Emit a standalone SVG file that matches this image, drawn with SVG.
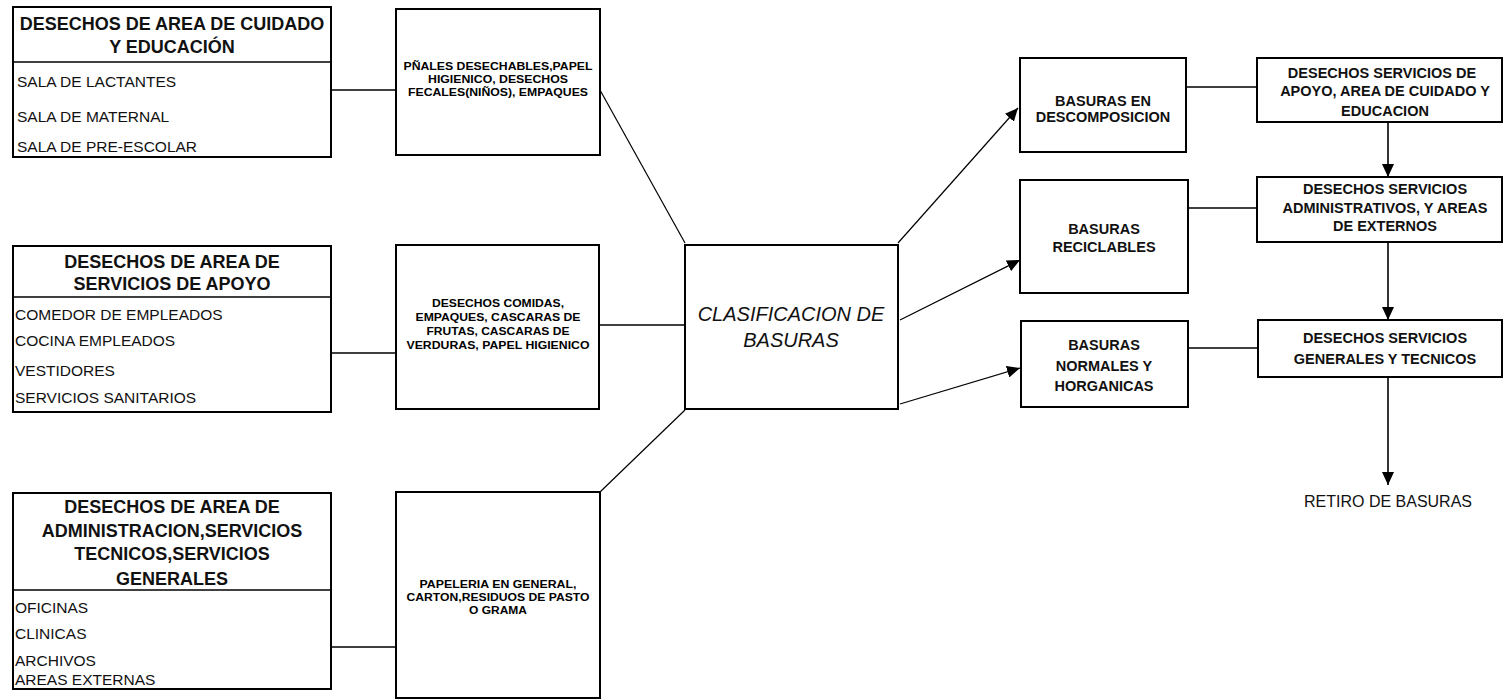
<svg xmlns="http://www.w3.org/2000/svg" width="1505" height="700" viewBox="0 0 1505 700">
<defs>
<marker id="ah" markerUnits="userSpaceOnUse" markerWidth="14" markerHeight="12" refX="13" refY="6" orient="auto">
<path d="M0,0 L13,6 L0,12 Z" fill="#000"/>
</marker>
<style>
.box{fill:#fff;stroke:#000;stroke-width:2}
.div{stroke:#000;stroke-width:1.5}
.hd{font-family:"Liberation Sans",Arial,sans-serif;font-weight:bold;font-size:18px;text-anchor:middle;fill:#111}
.it{font-family:"Liberation Sans",Arial,sans-serif;font-size:15.5px;fill:#111}
.sm{font-family:"Liberation Sans",Arial,sans-serif;font-weight:bold;font-size:10px;text-anchor:middle;fill:#000}
.ctr{font-family:"Liberation Sans",Arial,sans-serif;font-style:italic;font-size:20px;text-anchor:middle;fill:#111}
.rt{font-family:"Liberation Sans",Arial,sans-serif;font-weight:bold;font-size:14.5px;text-anchor:middle;fill:#111}
.rr{font-family:"Liberation Sans",Arial,sans-serif;font-size:16px;text-anchor:middle;fill:#111}
.c{fill:none;stroke:#000;stroke-width:1.6}
.d{fill:none;stroke:#000;stroke-width:1.2}
</style>
</defs>

<g id="connectors">
<line class="c" x1="331" y1="90" x2="396" y2="90"/>
<line class="c" x1="331" y1="353" x2="396" y2="353"/>
<line class="c" x1="331" y1="647" x2="396" y2="647"/>
<line class="d" x1="600" y1="90" x2="685" y2="243"/>
<line class="c" x1="599" y1="325" x2="685" y2="325"/>
<line class="d" x1="600" y1="492" x2="685" y2="410"/>
<line class="d" x1="898" y1="243" x2="1018" y2="108" marker-end="url(#ah)"/>
<line class="d" x1="900" y1="320" x2="1020" y2="260" marker-end="url(#ah)"/>
<line class="d" x1="900" y1="404" x2="1020" y2="368" marker-end="url(#ah)"/>
<line class="c" x1="1186" y1="87" x2="1257" y2="87"/>
<line class="c" x1="1188" y1="208" x2="1257" y2="208"/>
<line class="c" x1="1188" y1="348" x2="1258" y2="348"/>
<line class="c" x1="1388" y1="122" x2="1388" y2="177" marker-end="url(#ah)"/>
<line class="c" x1="1388" y1="242" x2="1388" y2="320" marker-end="url(#ah)"/>
<line class="c" x1="1388" y1="377" x2="1388" y2="485" marker-end="url(#ah)"/>
</g>

<g id="area-cuidado">
<rect class="box" x="13" y="7" width="318" height="150"/>
<line class="div" x1="13" y1="62" x2="331" y2="62"/>
<text class="hd" x="172" y="30">DESECHOS DE AREA DE CUIDADO</text>
<text class="hd" x="172" y="53">Y EDUCACIÓN</text>
<text class="it" x="17" y="87">SALA DE LACTANTES</text>
<text class="it" x="17" y="122">SALA DE MATERNAL</text>
<text class="it" x="17" y="152">SALA DE PRE-ESCOLAR</text>
</g>

<g id="residuos-cuidado">
<rect class="box" x="396" y="9" width="204" height="146"/>
<text class="sm" x="498" y="70" textLength="189" lengthAdjust="spacingAndGlyphs">PÑALES DESECHABLES,PAPEL</text>
<text class="sm" x="498" y="83" textLength="140" lengthAdjust="spacingAndGlyphs">HIGIENICO, DESECHOS</text>
<text class="sm" x="498" y="96" textLength="180" lengthAdjust="spacingAndGlyphs">FECALES(NIÑOS), EMPAQUES</text>
</g>

<g id="area-apoyo">
<rect class="box" x="13" y="246" width="318" height="166"/>
<line class="div" x1="13" y1="297" x2="331" y2="297"/>
<text class="hd" x="172" y="268">DESECHOS DE AREA DE</text>
<text class="hd" x="172" y="290">SERVICIOS DE APOYO</text>
<text class="it" x="15" y="320">COMEDOR DE EMPLEADOS</text>
<text class="it" x="15" y="346">COCINA EMPLEADOS</text>
<text class="it" x="15" y="376">VESTIDORES</text>
<text class="it" x="15" y="403">SERVICIOS SANITARIOS</text>
</g>

<g id="residuos-apoyo">
<rect class="box" x="396" y="245" width="203" height="164"/>
<text class="sm" x="498" y="307" textLength="132" lengthAdjust="spacingAndGlyphs">DESECHOS COMIDAS,</text>
<text class="sm" x="498" y="321" textLength="165" lengthAdjust="spacingAndGlyphs">EMPAQUES, CASCARAS DE</text>
<text class="sm" x="498" y="335" textLength="143" lengthAdjust="spacingAndGlyphs">FRUTAS, CASCARAS DE</text>
<text class="sm" x="498" y="349" textLength="183" lengthAdjust="spacingAndGlyphs">VERDURAS, PAPEL HIGIENICO</text>
</g>

<g id="area-administracion">
<rect class="box" x="13" y="493" width="318" height="196"/>
<line class="div" x1="13" y1="590" x2="331" y2="590"/>
<text class="hd" x="172" y="513">DESECHOS DE AREA DE</text>
<text class="hd" x="172" y="537">ADMINISTRACION,SERVICIOS</text>
<text class="hd" x="172" y="560">TECNICOS,SERVICIOS</text>
<text class="hd" x="172" y="585">GENERALES</text>
<text class="it" x="15" y="613">OFICINAS</text>
<text class="it" x="15" y="639">CLINICAS</text>
<text class="it" x="15" y="666">ARCHIVOS</text>
<text class="it" x="15" y="685">AREAS EXTERNAS</text>
</g>

<g id="residuos-administracion">
<rect class="box" x="396" y="492" width="204" height="206"/>
<text class="sm" x="498" y="588" textLength="157" lengthAdjust="spacingAndGlyphs">PAPELERIA EN GENERAL,</text>
<text class="sm" x="498" y="601" textLength="183" lengthAdjust="spacingAndGlyphs">CARTON,RESIDUOS DE PASTO</text>
<text class="sm" x="498" y="614" textLength="58" lengthAdjust="spacingAndGlyphs">O GRAMA</text>
</g>

<g id="clasificacion">
<rect class="box" x="685" y="245" width="213" height="164"/>
<text class="ctr" x="791" y="321">CLASIFICACION DE</text>
<text class="ctr" x="791" y="347">BASURAS</text>
</g>

<g id="descomposicion">
<rect class="box" x="1020" y="58" width="166" height="94"/>
<text class="rt" x="1103" y="106">BASURAS EN</text>
<text class="rt" x="1103" y="122">DESCOMPOSICION</text>
</g>

<g id="reciclables">
<rect class="box" x="1020" y="180" width="168" height="113"/>
<text class="rt" x="1104" y="234">BASURAS</text>
<text class="rt" x="1104" y="252">RECICLABLES</text>
</g>

<g id="normales">
<rect class="box" x="1021" y="321" width="167" height="86"/>
<text class="rt" x="1104" y="350">BASURAS</text>
<text class="rt" x="1104" y="371">NORMALES Y</text>
<text class="rt" x="1104" y="391">HORGANICAS</text>
</g>

<g id="servicios-apoyo">
<rect class="box" x="1257" y="58" width="245" height="64"/>
<text class="rt" x="1382" y="78">DESECHOS SERVICIOS DE</text>
<text class="rt" x="1385" y="96">APOYO, AREA DE CUIDADO Y</text>
<text class="rt" x="1385" y="116">EDUCACION</text>
</g>

<g id="servicios-administrativos">
<rect class="box" x="1257" y="177" width="245" height="65"/>
<text class="rt" x="1385" y="194">DESECHOS SERVICIOS</text>
<text class="rt" x="1385" y="213">ADMINISTRATIVOS, Y AREAS</text>
<text class="rt" x="1385" y="231">DE EXTERNOS</text>
</g>

<g id="servicios-generales">
<rect class="box" x="1258" y="320" width="244" height="57"/>
<text class="rt" x="1385" y="343">DESECHOS SERVICIOS</text>
<text class="rt" x="1385" y="364">GENERALES Y TECNICOS</text>
</g>

<g id="retiro">
<text class="rr" x="1388" y="507">RETIRO DE BASURAS</text>
</g>
</svg>
